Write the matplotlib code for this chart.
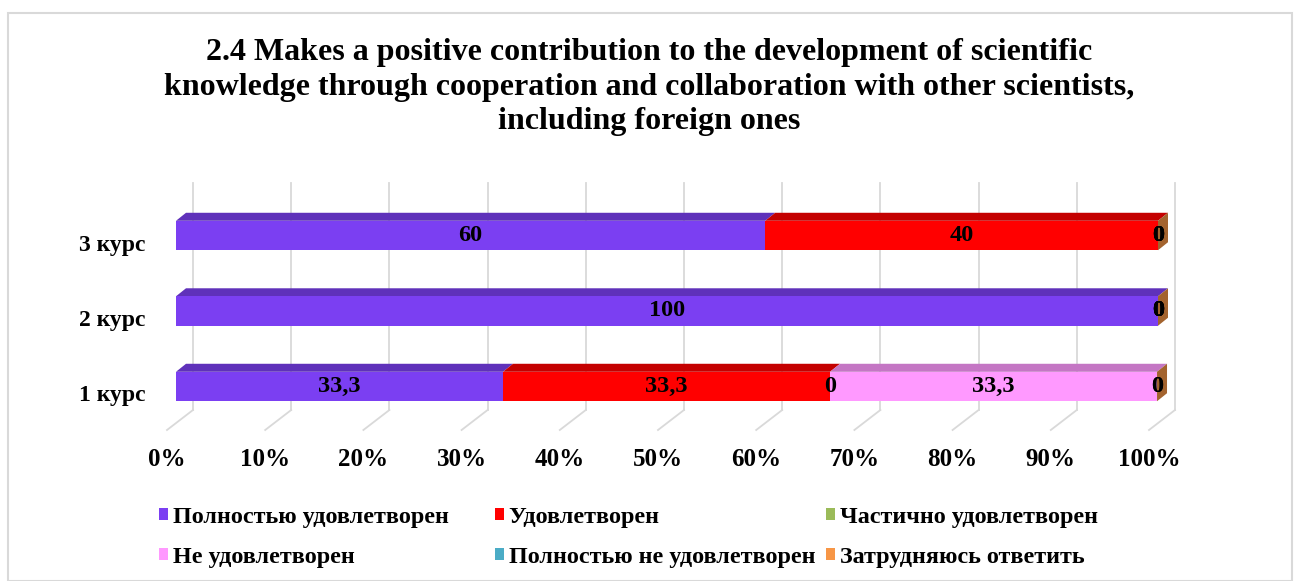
import matplotlib.pyplot as plt
import matplotlib.colors as mcolors
from matplotlib.patches import Polygon, Patch, Rectangle
from matplotlib.transforms import ScaledTranslation

plt.rcParams['font.family'] = ['Liberation Serif', 'DejaVu Serif']
plt.rcParams['font.weight'] = 'bold'

# data
title = ('2.4 Makes a positive contribution to the development of scientific\n'
         'knowledge through cooperation and collaboration with other scientists,\n'
         'including foreign ones')
categories = ['1 курс', '2 курс', '3 курс']
series_names = ['Полностью удовлетворен', 'Удовлетворен', 'Частично удовлетворен',
                'Не удовлетворен', 'Полностью не удовлетворен', 'Затрудняюсь ответить']
# one list per series, values for 1 курс, 2 курс, 3 курс
values = [
    [33.3, 100, 60],   # Полностью удовлетворен
    [33.3, 0, 40],     # Удовлетворен
    [0, 0, 0],         # Частично удовлетворен
    [33.3, 0, 0],      # Не удовлетворен
    [0, 0, 0],         # Полностью не удовлетворен
    [0, 0, 0],         # Затрудняюсь ответить
]
labels_txt = [
    ['33,3', '100', '60'],
    ['33,3', '0', '40'],
    ['0', '0', '0'],
    ['33,3', '0', '0'],
    ['0', '0', '0'],
    ['0', '0', '0'],
]
colors = ['#7B3FF2', '#FF0000', '#9BBB59', '#FF99FF', '#4BACC6', '#F79646']
ticks = list(range(0, 101, 10))
tick_labels = [f'{t}%' for t in ticks]


def shade(c, f):
    r, g, b = mcolors.to_rgb(c)
    return (r * f, g * f, b * f)


W, H = 1296, 581
fig = plt.figure(figsize=(W / 100, H / 100), dpi=100)
fig.patches.append(Rectangle((8 / W, 0), (1292 - 8) / W, (H - 13) / H,
                             transform=fig.transFigure, fill=False,
                             edgecolor='#D9D9D9', linewidth=1.5))

ax_left, ax_right = 176, 1158
ax_top, ax_bottom = 197.75, 424.25
ax = fig.add_axes([ax_left / W, (H - ax_bottom) / H,
                   (ax_right - ax_left) / W, (ax_bottom - ax_top) / H])
ax.set_xlim(0, 100)
ax.set_ylim(-0.5, 2.5)
ax.patch.set_visible(False)
for s in ax.spines.values():
    s.set_visible(False)

px_x = (ax_right - ax_left) / 100.0
px_y = (ax_bottom - ax_top) / 3.0


def ux(p):
    return p / px_x


def uy(p):
    return p / px_y


# back wall gridlines and floor lines
grid_c = '#D9D9D9'
back_dx = ux(17)
y_floor_back = -0.5 + uy(ax_bottom - 410)
y_floor_front = -0.5 - uy(430 - ax_bottom)
y_wall_top = 2.5 + uy(ax_top - 183)
for t in ticks:
    ax.plot([t + back_dx, t + back_dx], [y_floor_back, y_wall_top], color=grid_c,
            lw=1.3, clip_on=False, zorder=0)
    ax.plot([t + back_dx, t - ux(9)], [y_floor_back, y_floor_front], color=grid_c,
            lw=1.3, clip_on=False, zorder=0)

# 3D stacked bars
ypos = list(range(len(categories)))
bh = 0.39
ddx, ddy = ux(10), uy(8)
left = [0.0] * len(categories)
for k, (vals, col) in enumerate(zip(values, colors)):
    ax.barh(ypos, vals, left=left, height=bh, color=col, zorder=3)
    for i, v in enumerate(vals):
        x0 = left[i]
        yt = ypos[i] + bh / 2
        if v > 0:
            ax.add_patch(Polygon([(x0, yt), (x0 + v, yt), (x0 + v + ddx, yt + ddy),
                                  (x0 + ddx, yt + ddy)], closed=True,
                                 facecolor=shade(col, 0.77), edgecolor='none',
                                 zorder=2, clip_on=False))
        ax.text(x0 + v / 2, ypos[i], labels_txt[k][i], ha='center', va='center',
                fontsize=17.5, fontweight='bold', zorder=5)
    left = [l + v for l, v in zip(left, vals)]

# side face of the last (orange) series
for i in ypos:
    xe = left[i]
    yb, yt = ypos[i] - bh / 2, ypos[i] + bh / 2
    ax.add_patch(Polygon([(xe, yb), (xe, yt), (xe + ddx, yt + ddy), (xe + ddx, yb + ddy)],
                         closed=True, facecolor=shade(colors[-1], 0.66),
                         edgecolor='none', zorder=2, clip_on=False))

ax.set_xticks(ticks)
ax.set_xticklabels(tick_labels, fontsize=18, fontweight='bold')
ax.set_yticks(ypos)
ax.set_yticklabels(categories, fontsize=17, fontweight='bold')
ax.tick_params(axis='x', length=0, pad=17)
ax.tick_params(axis='y', length=0, pad=22)
for lab in ax.get_xticklabels():
    lab.set_transform(lab.get_transform() + ScaledTranslation(-9 / 100, 0, fig.dpi_scale_trans))
for lab in ax.get_yticklabels():
    lab.set_transform(lab.get_transform() + ScaledTranslation(0, -7 / 100, fig.dpi_scale_trans))

fig.text(649 / W, 1 - 87 / H, title, ha='center', va='center', fontsize=23,
         fontweight='bold', linespacing=1.25)

# legend: three columns
col_x = [159, 495, 826]
for c in range(3):
    idx = [c, c + 3]
    handles = [Patch(facecolor=colors[j], edgecolor='none') for j in idx]
    fig.legend(handles, [series_names[j] for j in idx], loc='upper left',
               bbox_to_anchor=(col_x[c] / W, 1 - 507 / H), frameon=False,
               prop={'family': 'Liberation Serif', 'weight': 'bold', 'size': 17.4},
               handlelength=0.37, handleheight=0.37, handletextpad=0.2,
               labelspacing=0.77, borderaxespad=0, borderpad=0)

fig.savefig('out.png', dpi=100)
